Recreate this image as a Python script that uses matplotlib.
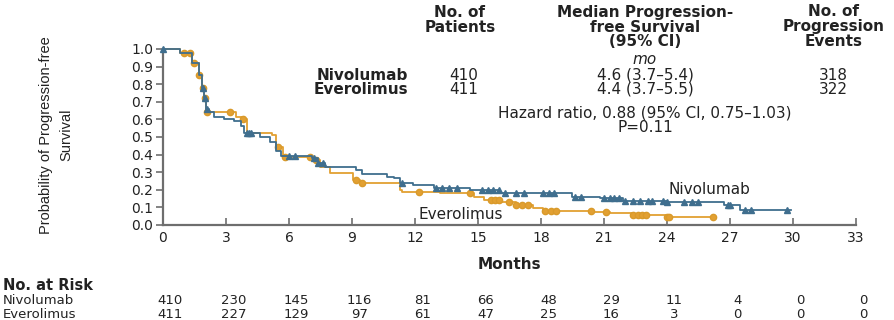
import numpy as np
import matplotlib
matplotlib.use("Agg")
from matplotlib import pyplot as plt
from matplotlib import transforms

# Kaplan-Meier step curves (months, probability)
nivo_t = [0, 0.8, 1.4, 1.7, 1.85, 1.95, 2.05, 2.2, 2.45, 2.9, 3.4, 3.7, 3.85, 4.6, 5.1, 5.4, 5.6,
          7.1, 7.4, 7.7, 9.2, 9.5, 10.65, 11.0, 11.3, 11.9, 12.9, 14.6, 16.05, 19.5, 20.8,
          21.9, 24.0, 26.7, 27.5, 29.9]
nivo_s = [1.0, 0.975, 0.92, 0.85, 0.78, 0.72, 0.66, 0.64, 0.615, 0.60, 0.59, 0.56, 0.52, 0.50,
          0.47, 0.42, 0.39, 0.38, 0.35, 0.33, 0.31, 0.29, 0.275, 0.265, 0.236, 0.227, 0.212,
          0.199, 0.18, 0.16, 0.151, 0.136, 0.132, 0.114, 0.085, 0.085]
ever_t = [0, 0.8, 1.4, 1.7, 1.85, 1.95, 2.05, 3.5, 3.75, 4.0, 5.2, 5.4, 5.7, 7.15, 7.5, 7.95,
          9.06, 9.4, 11.3, 11.4, 13.2, 14.8, 15.3, 16.05, 16.8, 17.6, 18.1, 20.5, 21.3, 22.4,
          24.0, 26.2]
ever_s = [1.0, 0.975, 0.92, 0.85, 0.78, 0.72, 0.64, 0.615, 0.60, 0.52, 0.51, 0.445, 0.385, 0.37,
          0.33, 0.294, 0.256, 0.236, 0.20, 0.19, 0.18, 0.16, 0.14, 0.13, 0.113, 0.095, 0.081,
          0.076, 0.066, 0.057, 0.044, 0.044]

# censored observations
nivo_cens = [0.0, 1.9, 2.0, 2.1, 4.0, 4.1, 4.2, 6.0, 6.3, 7.2, 7.4, 7.6, 11.4, 13.0, 13.3, 13.6,
             14.0, 15.2, 15.5, 15.7, 16.0, 16.3, 16.8, 17.2, 18.1, 18.4, 18.6, 19.6, 19.9, 21.0,
             21.3, 21.5, 21.7, 22.0, 22.4, 22.7, 23.1, 23.3, 23.8, 24.0, 24.8, 25.2, 25.5, 26.9,
             27.0, 27.7, 28.0, 29.7]
ever_cens = [1.0, 1.3, 1.5, 1.7, 1.9, 2.0, 2.1, 3.2, 3.8, 5.5, 5.8, 7.0, 7.3, 9.2, 9.5, 12.2,
             14.6, 15.6, 15.8, 16.0, 16.5, 16.8, 17.1, 17.4, 18.2, 18.5, 18.7, 20.4, 21.1,
             22.4, 22.6, 22.8, 23.0, 24.0, 24.1, 26.2]

risk_times = [0, 3, 6, 9, 12, 15, 18, 21, 24, 27, 30, 33]
nivo_risk = [410, 230, 145, 116, 81, 66, 48, 29, 11, 4, 0, 0]
ever_risk = [411, 227, 129, 97, 61, 47, 25, 16, 3, 0, 0, 0]

groups = ["Nivolumab", "Everolimus"]
n_patients = ["410", "411"]
median_pfs = ["4.6 (3.7\u20135.4)", "4.4 (3.7\u20135.5)"]
n_events = ["318", "322"]

blue = "#3f6e8e"
orange = "#e2a032"
grey = "#6e6e6e"
txt = "#222222"

W, H = 895, 320
fig = plt.figure(figsize=(W / 100, H / 100), dpi=100)
ax = fig.add_axes([163 / W, 1 - 225 / H, 693 / W, 176 / H])


def step_at(t, s, x):
    i = np.searchsorted(t, x, side="right") - 1
    return np.array(s)[np.clip(i, 0, len(s) - 1)]


ax.step(ever_t, ever_s, where="post", color=orange, lw=1.3, clip_on=False, zorder=3)
ax.plot(ever_cens, step_at(ever_t, ever_s, ever_cens), "o", color=orange, ms=4.5,
        mfc=orange, mec="#d99a2b", clip_on=False, zorder=3)
ax.step(nivo_t, nivo_s, where="post", color=blue, lw=1.3, clip_on=False, zorder=4)
ax.plot(nivo_cens, step_at(nivo_t, nivo_s, nivo_cens), "^", color=blue, ms=4.5,
        clip_on=False, zorder=4)

ax.set_xlim(0, 33)
ax.set_ylim(0, 1)
ax.set_xticks(risk_times)
ax.set_yticks(np.arange(0, 1.01, 0.1))
ax.set_yticklabels(["%.1f" % v for v in np.arange(0, 1.01, 0.1)])
for sp in ["top", "right"]:
    ax.spines[sp].set_visible(False)
for sp in ["left", "bottom"]:
    ax.spines[sp].set_color(grey)
    ax.spines[sp].set_linewidth(1.6)
ax.tick_params(axis="y", direction="out", length=5, width=1.2, color=grey,
               labelsize=10, labelcolor=txt, pad=2)
ax.tick_params(axis="x", direction="in", length=5, width=1.2, color=grey,
               labelsize=10, labelcolor=txt, pad=4)
ax.patch.set_alpha(0)

ax.text(26, 0.20, "Nivolumab", fontsize=11, color=txt, ha="center", va="center")
ax.text(14.2, 0.06, "Everolimus", fontsize=11, color=txt, ha="center", va="center")

ax.set_xlabel("Months", fontsize=11, fontweight="bold", color=txt, labelpad=9)
fig.text(56 / W, 1 - 135 / H, "Probability of Progression-free\nSurvival", rotation=90,
         ha="center", va="center", fontsize=10.5, linespacing=1.6, color=txt,
         family=["Liberation Sans", "DejaVu Sans"])


def ftxt(x, y, s, **kw):
    kw.setdefault("fontsize", 11)
    kw.setdefault("color", txt)
    fig.text(x / W, 1 - y / H, s, va="center", **kw)


# summary table
ftxt(460, 20, "No. of\nPatients", ha="center", fontweight="bold", linespacing=1.0)
ftxt(645, 27, "Median Progression-\nfree Survival\n(95% CI)", ha="center",
     fontweight="bold", linespacing=1.0)
ftxt(834, 27, "No. of\nProgression\nEvents", ha="center", fontweight="bold", linespacing=1.0)
ftxt(645, 60, "mo", ha="center", style="italic")
for i, g in enumerate(groups):
    yy = 75 + i * 14
    ftxt(408, yy, g, ha="right", fontweight="bold")
    ftxt(464, yy, n_patients[i], ha="center")
    ftxt(645, yy, median_pfs[i], ha="center")
    ftxt(833, yy, n_events[i], ha="center")
ftxt(645, 113, "Hazard ratio, 0.88 (95% CI, 0.75\u20131.03)", ha="center")
ftxt(645, 127, "P=0.11", ha="center")

# number at risk
ftxt(3, 286, "No. at Risk", ha="left", fontweight="bold", fontsize=10.5)
ftxt(3, 301, "Nivolumab", ha="left", fontsize=9.5)
ftxt(3, 314, "Everolimus", ha="left", fontsize=9.5)
tr = transforms.blended_transform_factory(ax.transData, fig.transFigure)
for t, a, b in zip(risk_times, nivo_risk, ever_risk):
    ax.text(t + 0.35, 1 - 301 / H, str(a), transform=tr, ha="center", va="center",
            fontsize=9.5, color=txt)
    ax.text(t + 0.35, 1 - 314 / H, str(b), transform=tr, ha="center", va="center",
            fontsize=9.5, color=txt)

fig.savefig("out.png", dpi=100)
